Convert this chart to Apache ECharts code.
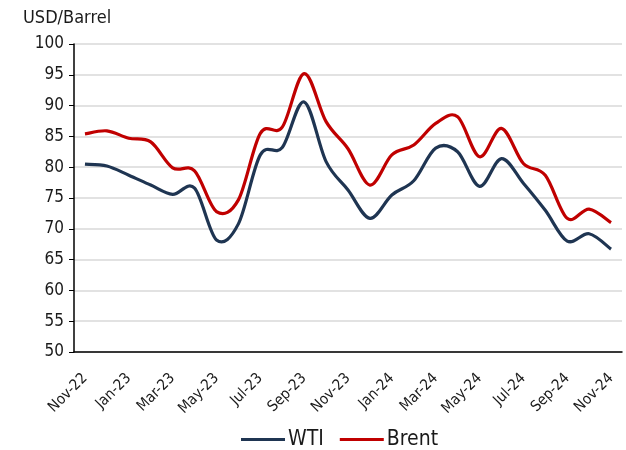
<!DOCTYPE html>
<html>
<head>
<meta charset="utf-8">
<script src="https://cdn.jsdelivr.net/npm/echarts@6/dist/echarts.min.js"></script>
<style>html,body{margin:0;padding:0;background:#fff}#c{width:626px;height:450px}</style>
</head>
<body>
<div id="c"></div>
<script>
const months = ['Nov-22','Dec-22','Jan-23','Feb-23','Mar-23','Apr-23','May-23','Jun-23','Jul-23','Aug-23','Sep-23','Oct-23','Nov-23','Dec-23','Jan-24','Feb-24','Mar-24','Apr-24','May-24','Jun-24','Jul-24','Aug-24','Sep-24','Oct-24','Nov-24'];
const wti   = [80.5,80.2,78.7,77.1,75.6,76.6,68.2,70.8,82.0,83.2,90.6,80.9,76.3,71.7,75.5,77.8,83.1,82.5,76.9,81.4,77.4,73.0,68.0,69.2,66.7];
const brent = [85.4,85.9,84.7,84.1,79.9,79.4,72.8,74.7,85.5,86.5,95.2,87.4,83.0,77.1,82.0,83.6,87.1,88.2,81.7,86.3,80.6,78.7,71.7,73.2,71.0];
const yTicks = {min:50, max:100, interval:5};

const font = '"DejaVu Sans Condensed", "DejaVu Sans", sans-serif';
const txt = '#1a1a1a';

// Smooth line drawn through the chart's own coordinate system (Excel-like cardinal spline)
function splineSeries(name, values, color) {
  return {
    name: name, type: 'custom', silent: true,
    data: values.map(function (v, i) { return [i, v]; }),
    encode: {x: 0, y: 1},
    itemStyle: {color: color},
    renderItem: function (params, api) {
      if (params.dataIndex !== 0) return null;
      const pts = values.map(function (v, i) { return api.coord([i, v]); });
      const t = 1 / 6;
      let d = 'M' + pts[0][0] + ',' + pts[0][1];
      for (let i = 0; i < pts.length - 1; i++) {
        const p0 = pts[i - 1] || pts[i], p1 = pts[i], p2 = pts[i + 1], p3 = pts[i + 2] || pts[i + 1];
        const c1x = p1[0] + (p2[0] - p0[0]) * t, c1y = p1[1] + (p2[1] - p0[1]) * t;
        const c2x = p2[0] - (p3[0] - p1[0]) * t, c2y = p2[1] - (p3[1] - p1[1]) * t;
        d += ' C' + c1x + ',' + c1y + ' ' + c2x + ',' + c2y + ' ' + p2[0] + ',' + p2[1];
      }
      return {type: 'path', shape: {pathData: d},
        style: {fill: 'none', stroke: color, lineWidth: 3.2, lineJoin: 'round', lineCap: 'butt'}};
    }
  };
}

const chart = echarts.init(document.getElementById('c'));
chart.setOption({
  animation:false,
  textStyle:{fontFamily:font},
  title:{text:'USD/Barrel', left:18, top:4, textStyle:{fontFamily:font, fontSize:18, fontWeight:'normal', color:txt}},
  grid:{left:74, right:4, top:44, bottom:98},
  legend:{top:424, left:236, icon:'rect', itemWidth:44, itemHeight:3, itemGap:16,
    textStyle:{fontFamily:font, fontSize:21, color:txt, padding:[0,0,0,-2]},
    data:['WTI','Brent']},
  xAxis:{type:'category', data:months, boundaryGap:true,
    axisLine:{lineStyle:{color:'#000', width:1.5}},
    axisTick:{show:false},
    axisLabel:{interval:1, rotate:45, fontFamily:font, fontSize:15, color:txt, margin:24}},
  yAxis:{type:'value', min:yTicks.min, max:yTicks.max, interval:yTicks.interval,
    axisLine:{show:true, lineStyle:{color:'#000', width:1.5}},
    axisTick:{show:true, length:5, lineStyle:{color:'#000'}},
    axisLabel:{fontFamily:font, fontSize:17, color:txt, margin:10},
    splitLine:{lineStyle:{color:'#d9d9d9', width:1.5}}},
  series:[
    splineSeries('WTI', wti, '#1f3552'),
    splineSeries('Brent', brent, '#c00000')
  ]
});
</script>
</body>
</html>
